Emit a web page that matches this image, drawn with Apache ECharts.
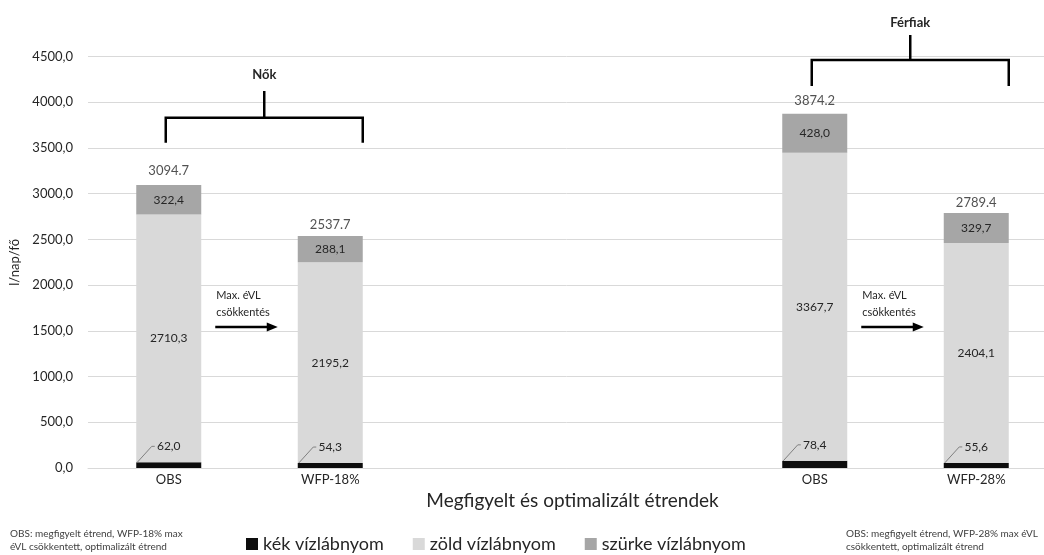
<!DOCTYPE html>
<html>
<head>
<meta charset="utf-8">
<script src="https://cdn.jsdelivr.net/npm/echarts@6/dist/echarts.min.js"></script>
<style>
html, body { margin: 0; padding: 0; background: #fff; }
#c { width: 1044px; height: 555px; }
</style>
</head>
<body>
<div id="c"></div>
<script>
// Categories (two empty slots separate the women's and men's groups)
const categories = ['OBS', 'WFP-18%', '', '', 'OBS', 'WFP-28%'];
// Water footprint components, l/nap/fő
const kek = [62.0, 54.3, null, null, 78.4, 55.6];
const zold = [2710.3, 2195.2, null, null, 3367.7, 2404.1];
const szurke = [322.4, 288.1, null, null, 428.0, 329.7];
// Totals printed above the stacks
const totals = [3094.7, 2537.7, null, null, 3874.2, 2789.4];
// Value axis ticks
const yMin = 0, yMax = 4500, yStep = 500;
// Group brackets and arrows between observed and optimised diets
const groups = [
  { name: 'Nők', from: 0, to: 1 },
  { name: 'Férfiak', from: 4, to: 5 }
];
const arrowPairs = [[0, 1], [4, 5]];

const FONT = 'Lato, "Open Sans", sans-serif';
const comma = v => v.toFixed(1).replace('.', ',');
const BAR_W = 65;
// gap between each total label and its stack top
const totalGap = [8, 4.5, 0, 0, 6.5, 3.5];

const chart = echarts.init(document.getElementById('c'), null, { renderer: 'canvas' });

const option = {
  animation: false,
  backgroundColor: '#ffffff',
  textStyle: { fontFamily: FONT },
  grid: { left: 88, top: 56.5, width: 969, height: 411.5, containLabel: false, outerBoundsMode: 'none' },
  legend: {
    data: ['kék vízlábnyom', 'zöld vízlábnyom', 'szürke vízlábnyom'],
    left: 241, top: 530,
    itemWidth: 12, itemHeight: 12, itemGap: 29,
    icon: 'rect',
    textStyle: { fontSize: 18, color: '#262626', fontFamily: FONT }
  },
  xAxis: {
    type: 'category',
    data: categories,
    name: 'Megfigyelt és optimalizált étrendek',
    nameLocation: 'middle',
    nameGap: 16,
    nameTextStyle: { fontSize: 19, color: '#262626', fontFamily: FONT, verticalAlign: 'top' },
    axisLine: { lineStyle: { color: '#d9d9d9', width: 1 } },
    axisTick: { show: false },
    axisLabel: { fontSize: 13, color: '#262626', margin: 5, fontFamily: FONT },
    splitLine: { show: false }
  },
  yAxis: {
    type: 'value',
    min: yMin, max: yMax, interval: yStep,
    name: 'l/nap/fő',
    nameLocation: 'middle',
    nameGap: 64,
    nameRotate: 90,
    nameTextStyle: { fontSize: 13, color: '#262626', fontFamily: FONT },
    axisLine: { show: false },
    axisTick: { show: false },
    axisLabel: { fontSize: 13, color: '#262626', margin: 15, formatter: v => comma(v), fontFamily: FONT },
    splitLine: { lineStyle: { color: '#d9d9d9', width: 1 } }
  },
  series: [
    {
      name: 'kék vízlábnyom', type: 'bar', stack: 'wf', barWidth: BAR_W,
      data: kek,
      itemStyle: { color: '#0d0d0d' },
      label: {
        show: true, position: 'top', distance: 10,
        formatter: p => comma(p.value), fontSize: 12, color: '#262626', fontFamily: FONT
      }
    },
    {
      name: 'zöld vízlábnyom', type: 'bar', stack: 'wf', barWidth: BAR_W,
      data: zold,
      itemStyle: { color: '#d9d9d9' },
      label: {
        show: true, position: 'inside',
        formatter: p => comma(p.value), fontSize: 12, color: '#262626', fontFamily: FONT
      }
    },
    {
      name: 'szürke vízlábnyom', type: 'bar', stack: 'wf', barWidth: BAR_W,
      data: szurke,
      itemStyle: { color: '#a6a6a6' },
      label: {
        show: true, position: 'inside',
        formatter: p => comma(p.value), fontSize: 12, color: '#262626', fontFamily: FONT
      }
    },
    {
      name: 'összesen', type: 'scatter',
      data: totals.map((v, i) => ({ value: v, label: { distance: totalGap[i] } })),
      symbolSize: 0,
      silent: true,
      label: {
        show: true, position: 'top',
        formatter: p => p.value.toFixed(1), fontSize: 13, color: '#262626', fontFamily: FONT
      }
    }
  ]
};

chart.setOption(option);

// Annotations anchored to the axes
function px(i, v) { return chart.convertToPixel({ gridIndex: 0 }, [i, v]); }

function buildGraphics() {
  const els = [];
  const ink = '#000000';

  // Group brackets: [leg bottom, bar, stem top, label] in axis units
  const levels = [[3557, 3831, 4123, 4298], [4178, 4462, 4735, 4870]];
  groups.forEach((g, k) => {
    const [legV, barV, stemV, labV] = levels[k];
    const xl = px(g.from, 0)[0] - 3;
    const xr = px(g.to, 0)[0] + BAR_W / 2;
    const xm = (xl + xr) / 2;
    const yLeg = px(0, legV)[1], yBar = px(0, barV)[1], yStem = px(0, stemV)[1], yLab = px(0, labV)[1];
    els.push({
      type: 'polyline', silent: true,
      shape: { points: [[xl, yLeg], [xl, yBar], [xr, yBar], [xr, yLeg]] },
      style: { stroke: ink, lineWidth: 2.5, fill: null, lineJoin: 'miter' }
    });
    els.push({
      type: 'line', silent: true,
      shape: { x1: xm, y1: yBar, x2: xm, y2: yStem },
      style: { stroke: ink, lineWidth: 2.5 }
    });
    els.push({
      type: 'text', silent: true,
      style: {
        x: xm, y: yLab, text: g.name, align: 'center', verticalAlign: 'middle',
        font: 'bold 13px ' + FONT, fill: '#262626'
      }
    });
  });

  // Arrows between observed and optimised bars
  arrowPairs.forEach(([a, b]) => {
    const x1 = px(a, 0)[0] + BAR_W / 2 + 14;
    const x2 = px(b, 0)[0] - BAR_W / 2 - 20;
    const y = px(a, 1542)[1];
    els.push({
      type: 'line', silent: true,
      shape: { x1: x1, y1: y, x2: x2 - 9, y2: y },
      style: { stroke: ink, lineWidth: 2.5 }
    });
    els.push({
      type: 'polygon', silent: true,
      shape: { points: [[x2 - 11, y - 4.5], [x2, y], [x2 - 11, y + 4.5]] },
      style: { fill: ink }
    });
    els.push({
      type: 'text', silent: true,
      style: {
        x: x1 + 1, y: y - 40, text: 'Max. éVL\ncsökkentés',
        font: '11px ' + FONT, lineHeight: 17, fill: '#262626',
        align: 'left', verticalAlign: 'top'
      }
    });
  });

  // Leader lines for the small blue-segment labels
  kek.forEach((v, i) => {
    if (v == null) return;
    const top = px(i, v);
    const c = top[0];
    const left = c - BAR_W / 2;
    const ly = top[1] - 16;
    els.push({
      type: 'polyline', silent: true, z: 100,
      shape: { points: [[left + 1, top[1]], [c - 17, ly], [c - 14, ly]] },
      style: { stroke: '#808080', lineWidth: 1, fill: null }
    });
  });

  // Footnotes
  els.push({
    type: 'text', silent: true, left: 10, top: 527,
    style: {
      text: 'OBS: megfigyelt étrend, WFP-18% max\néVL csökkentett, optimalizált étrend',
      font: '10px ' + FONT, lineHeight: 13, fill: '#404040'
    }
  });
  els.push({
    type: 'text', silent: true, left: 846, top: 527,
    style: {
      text: 'OBS: megfigyelt étrend, WFP-28% max éVL\ncsökkentett, optimalizált étrend',
      font: '10px ' + FONT, lineHeight: 13, fill: '#404040'
    }
  });
  return els;
}

chart.setOption({ graphic: { elements: buildGraphics() } });
</script>
</body>
</html>
